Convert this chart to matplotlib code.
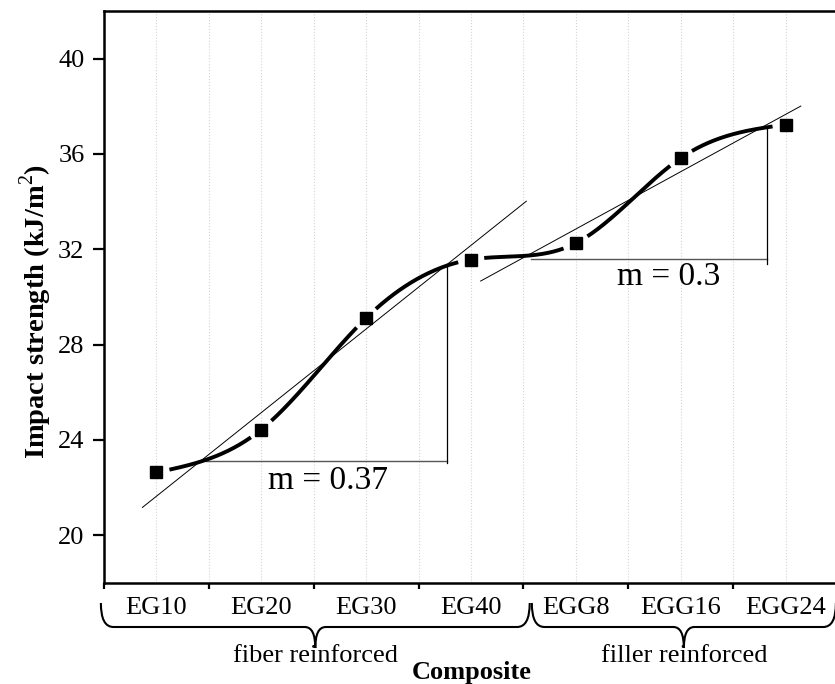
import numpy as np
import matplotlib
matplotlib.use("Agg")
import matplotlib.pyplot as plt
from matplotlib.path import Path
from matplotlib.patches import PathPatch
from matplotlib.transforms import blended_transform_factory

plt.rcParams['font.family'] = ['Liberation Serif', 'DejaVu Serif']
plt.rcParams['mathtext.fontset'] = 'custom'
plt.rcParams['mathtext.rm'] = 'Liberation Serif'
plt.rcParams['mathtext.bf'] = 'Liberation Serif:bold'

# data
composites = ["EG10", "EG20", "EG30", "EG40", "EGG8", "EGG16", "EGG24"]
impact = [22.64, 24.44, 29.12, 31.57, 32.26, 35.83, 37.23]
groups = ["fiber reinforced", "filler reinforced"]
group_spans = [(-0.53, 3.56), (3.58, 6.48)]
yticks = [20, 24, 28, 32, 36, 40]

# slope guides: tangent endpoints, triangle legs, label
tangents = [((-0.134, 21.17), (3.528, 34.02)),
            ((3.092, 30.67), (6.145, 38.01))]
horiz_legs = [(0.47, 2.771, 23.10), (3.569, 5.827, 31.59)]
vert_legs = [(2.771, 23.05, 31.36), (5.827, 31.37, 37.12)]
slope_labels = [(1.632, 22.30, "m = 0.37"), (4.885, 30.87, "m = 0.3")]


def natural_spline(x, y, xs):
    x = np.asarray(x, float)
    y = np.asarray(y, float)
    n = len(x)
    h = np.diff(x)
    A = np.zeros((n, n))
    b = np.zeros(n)
    A[0, 0] = A[-1, -1] = 1
    for i in range(1, n - 1):
        A[i, i - 1] = h[i - 1]
        A[i, i] = 2 * (h[i - 1] + h[i])
        A[i, i + 1] = h[i]
        b[i] = 3 * ((y[i + 1] - y[i]) / h[i] - (y[i] - y[i - 1]) / h[i - 1])
    c = np.linalg.solve(A, b)
    bb = (y[1:] - y[:-1]) / h - h * (2 * c[:-1] + c[1:]) / 3
    d = (c[1:] - c[:-1]) / (3 * h)
    idx = np.clip(np.searchsorted(x, xs) - 1, 0, n - 2)
    dx = xs - x[idx]
    return y[idx] + bb[idx] * dx + c[idx] * dx ** 2 + d[idx] * dx ** 3


fig = plt.figure(figsize=(8.35, 6.84), dpi=100)
ax = fig.add_axes([104 / 835, 101 / 684, 734 / 835, 572 / 684])
xpos = np.arange(len(composites))
ax.set_xlim(-0.5, 6.5)
ax.set_ylim(18, 42)

# smooth curve with gaps around the markers
xs = np.linspace(xpos[0], xpos[-1], 1500)
ys = natural_spline(xpos, impact, xs)
disp = ax.transData.transform(np.column_stack([xs, ys]))
mk = ax.transData.transform(np.column_stack([xpos, impact]))
dist = np.min(np.hypot(disp[:, None, 0] - mk[None, :, 0],
                       disp[:, None, 1] - mk[None, :, 1]), axis=1)
ys_plot = np.where(dist > 13, ys, np.nan)
ax.plot(xs, ys_plot, color='black', lw=2.8, solid_capstyle='butt', zorder=3)
ax.plot(xpos, impact, 's', color='black', ms=8.5, zorder=4)

for (x0, y0), (x1, y1) in tangents:
    ax.plot([x0, x1], [y0, y1], color='black', lw=0.7, zorder=2)
for x0, x1, yv in horiz_legs:
    ax.plot([x0, x1], [yv, yv], color='#555555', lw=1.0, zorder=2)
for xv, y0, y1 in vert_legs:
    ax.plot([xv, xv], [y0, y1], color='black', lw=0.9, zorder=2)
for x, y, s in slope_labels:
    ax.text(x, y, s, fontsize=24, ha='center', va='center')

# axes styling
ax.set_xticks(xpos)
ax.set_xticklabels(composites, fontsize=19)
ax.set_xticks(np.arange(-0.5, 7, 1), minor=True)
ax.tick_params(axis='x', which='major', length=0, pad=10)
ax.tick_params(axis='x', which='minor', length=4, width=1.6, direction='out')
ax.set_yticks(yticks)
ax.tick_params(axis='y', length=8, width=1.6, labelsize=19, pad=6)
ax.grid(axis='x', which='both', color='#d4d4d4', ls=':', lw=0.8)
ax.set_axisbelow(True)
for side in ['left', 'bottom', 'top', 'right']:
    ax.spines[side].set_linewidth(1.8)

fig.text(36 / 835, 1 - 311 / 684, r"Impact strength (kJ/m$^{2}$)",
         rotation=90, fontsize=20.5, fontweight='bold', ha='center', va='center')
fig.text(472 / 835, 1 - 672 / 684, "Composite", fontsize=19,
         fontweight='bold', ha='center', va='center')

# group braces under the tick labels
tr = blended_transform_factory(ax.transData, fig.transFigure)
ytop, ymid, ybot = 1 - 603 / 684, 1 - 627 / 684, 1 - 648 / 684
ew, tw = 0.12, 0.10
for (a, b), name in zip(group_spans, groups):
    m = (a + b) / 2
    verts = [(a, ytop), (a, ymid), (a + ew, ymid),
             (m - tw, ymid),
             (m, ymid), (m, ybot),
             (m, ymid), (m + tw, ymid),
             (b - ew, ymid),
             (b, ymid), (b, ytop)]
    codes = [Path.MOVETO, Path.CURVE3, Path.CURVE3,
             Path.LINETO,
             Path.CURVE3, Path.CURVE3,
             Path.CURVE3, Path.CURVE3,
             Path.LINETO,
             Path.CURVE3, Path.CURVE3]
    ax.add_patch(PathPatch(Path(verts, codes), transform=tr, fill=False,
                           lw=1.5, edgecolor='black', clip_on=False))
    ax.text(m, 1 - 656 / 684, name, transform=tr, fontsize=19,
            ha='center', va='center')

fig.savefig("out.png", dpi=100)
